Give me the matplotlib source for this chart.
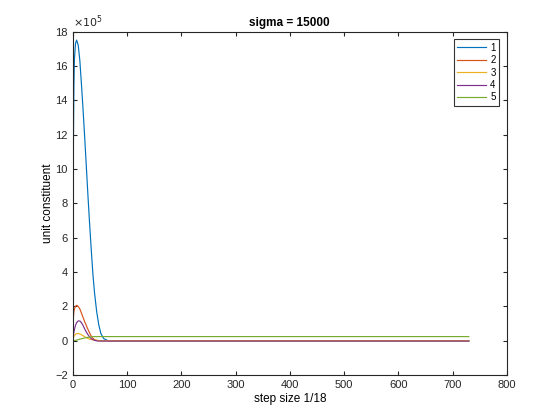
import numpy as np
import matplotlib
matplotlib.use("Agg")
import matplotlib.pyplot as plt

plt.rcParams['font.family'] = ['Liberation Sans', 'DejaVu Sans']

# step index (y in units of 1e5)
steps = [0, 1, 2, 3, 5, 7, 10, 13, 16, 19, 22, 25, 28, 31, 34, 37, 40, 44, 48, 52, 57, 65, 730]
s1 = [0, 11.0, 14.8, 16.4, 17.3, 17.5, 17.2, 16.3, 14.9, 13.4, 11.8, 10.1, 8.4, 6.8, 5.3, 3.9, 2.8, 1.7, 0.9, 0.4, 0.12, 0.0, 0.0]
s2 = [0, 1.3, 1.7, 1.85, 2.0, 2.06, 2.0, 1.85, 1.6, 1.35, 1.1, 0.88, 0.65, 0.45, 0.27, 0.14, 0.06, 0.02, 0.0, 0.0, 0.0, 0.0, 0.0]
s3 = [0, 0.15, 0.25, 0.3, 0.38, 0.41, 0.42, 0.39, 0.34, 0.29, 0.23, 0.18, 0.13, 0.09, 0.07, 0.05, 0.03, 0.02, 0.01, 0.0, 0.0, 0.0, 0.0]
s4 = [0, 0.3, 0.5, 0.65, 0.9, 1.05, 1.15, 1.15, 1.05, 0.88, 0.68, 0.5, 0.35, 0.22, 0.12, 0.06, 0.02, -0.01, -0.02, -0.02, -0.02, -0.02, -0.02]
s5 = [0, 0.0, 0.01, 0.01, 0.02, 0.04, 0.06, 0.09, 0.11, 0.14, 0.16, 0.18, 0.2, 0.21, 0.22, 0.23, 0.24, 0.24, 0.24, 0.24, 0.24, 0.24, 0.24]
names = ["1", "2", "3", "4", "5"]
colors = ["#0072bd", "#d95319", "#edb120", "#7e2f8e", "#77ac30"]

fig = plt.figure(figsize=(5.6, 4.2), dpi=100)
ax = fig.add_axes([0.13, 0.107, 0.775, 0.818])

for s, n, c in zip([s1, s2, s3, s4, s5], names, colors):
    ax.plot(steps, s, color=c, lw=0.85, label=n)

ax.set_xlim(0, 800)
ax.set_ylim(-2, 18)
ax.set_xticks(np.arange(0, 801, 100))
ax.set_yticks(np.arange(-2, 19, 2))
ax.tick_params(direction='in', top=True, right=True, labelsize=8, colors='#262626', length=3)
for sp in ax.spines.values():
    sp.set_color('#262626')
    sp.set_linewidth(0.8)

ax.set_title("sigma = 15000", fontsize=8.5, fontweight='bold', pad=4)
ax.set_xlabel("step size 1/18", fontsize=8.5, labelpad=2)
ax.set_ylabel("unit constituent", fontsize=8.5, labelpad=1)
ax.text(0.0, 1.005, r"$\times10^5$", transform=ax.transAxes, fontsize=8, color='#262626', va='bottom', ha='left')

leg = ax.legend(loc='upper right', fontsize=7, frameon=True, fancybox=False, handlelength=3.0,
                borderaxespad=0.8, labelspacing=0.25, handletextpad=0.4, borderpad=0.35)
leg.get_frame().set_edgecolor('black')
leg.get_frame().set_linewidth(0.8)

fig.savefig("out.png", dpi=100)
